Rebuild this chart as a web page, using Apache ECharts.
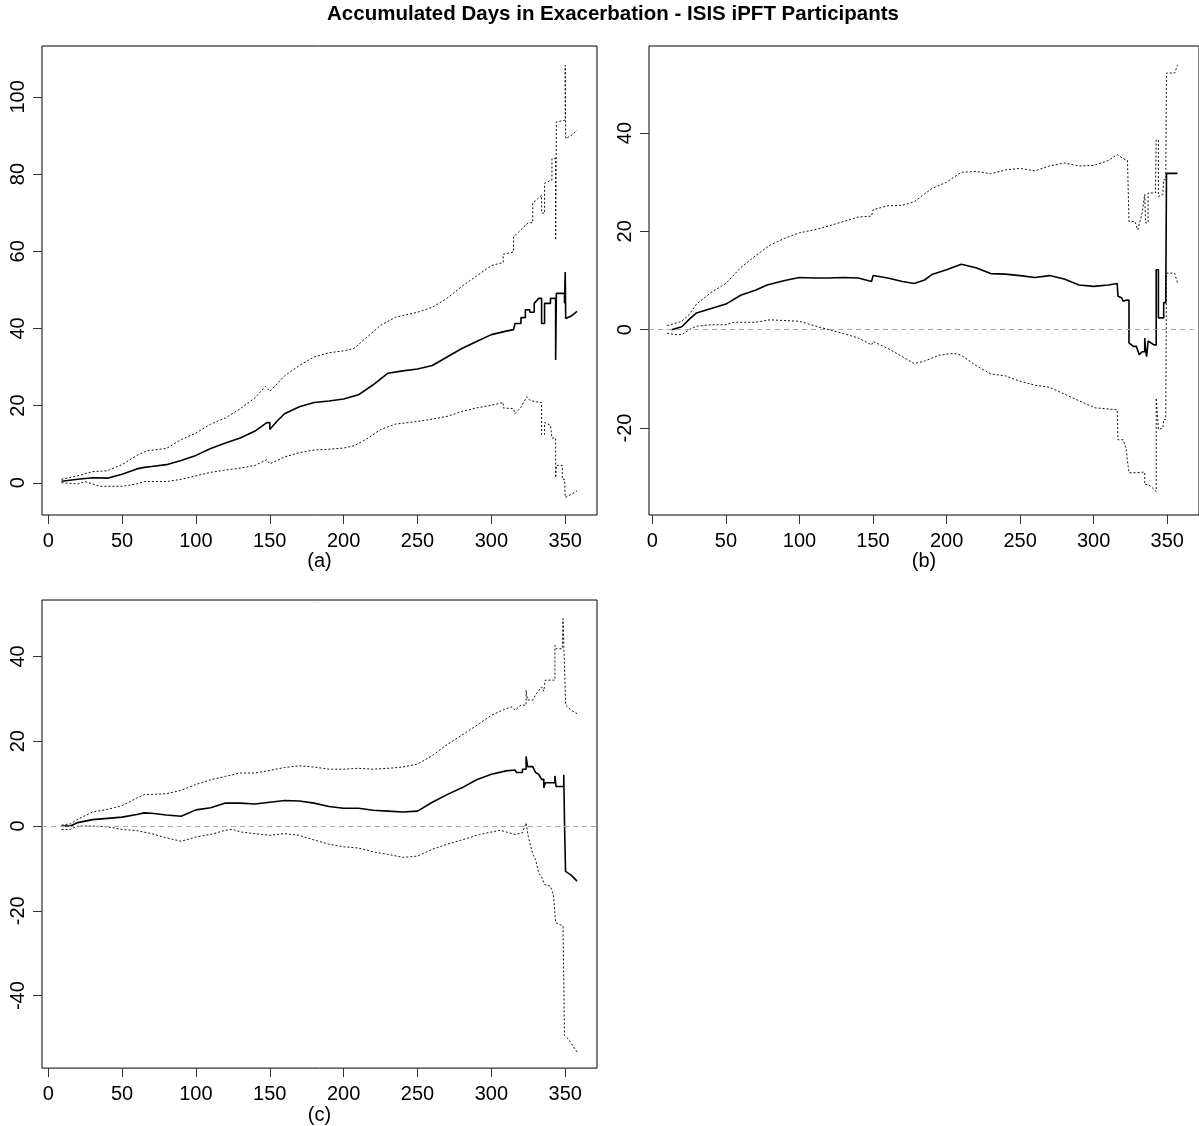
<!DOCTYPE html>
<html>
<head>
<meta charset="utf-8">
<script src="https://cdn.jsdelivr.net/npm/echarts@6/dist/echarts.min.js"></script>
<style>
html,body{margin:0;padding:0;background:#fff;}
#chart{width:1199px;height:1126px;}
</style>
</head>
<body>
<div id="chart"></div>
<script>
// ---- Data (day, accumulated days) ----
const titleText = 'Accumulated Days in Exacerbation - ISIS iPFT Participants';
const panelNames = ['(a)', '(b)', '(c)'];
const xTicks = [0, 50, 100, 150, 200, 250, 300, 350];
const aYTicks = [0, 20, 40, 60, 80, 100];
const bYTicks = [-20, 0, 20, 40];
const cYTicks = [-40, -20, 0, 20, 40];

const aMean = [[9,0.4],[20,0.9],[30,1.3],[40,1.2],[50,2.2],[60,3.6],[65,4.0],[70,4.2],[80,4.7],[90,5.8],[100,7.1],[110,8.9],[120,10.3],[130,11.6],[140,13.4],[148,15.6],[150,15.6],[150,13.8],[155,16],[160,17.9],[170,19.7],[180,20.8],[190,21.2],[200,21.7],[210,22.8],[220,25.4],[230,28.4],[240,29],[250,29.5],[260,30.4],[270,32.6],[280,34.8],[290,36.6],[300,38.4],[310,39.3],[315,39.7],[316,39.7],[316,41.3],[320,41.3],[320,42.8],[323,42.8],[323,44.8],[326,44.8],[326,44.2],[329,44.2],[329,46.5],[332,47.8],[334,47.8],[334,41.3],[336,41.3],[336,46.5],[340,46.5],[340,47.8],[343.5,47.8],[343.5,31.8],[344,31.8],[344,49.1],[349.5,49.1],[349.5,46.5],[350,46.5],[350,54.6],[350.3,54.6],[350.3,42.6],[354,43.2],[358,44.4]];
const aUpper = [[9,0.9],[20,1.8],[30,2.9],[40,3.1],[50,4.7],[60,7.1],[67,8.3],[80,8.9],[90,11.2],[100,12.9],[110,15.2],[120,16.8],[130,19.2],[140,22],[147,25],[150,23.7],[160,27.7],[170,30.4],[180,32.6],[190,33.7],[200,34.2],[207,34.8],[215,37.5],[225,40.8],[235,42.9],[250,44.2],[260,45.5],[270,47.8],[280,50.9],[290,53.6],[300,56.3],[308,57.1],[308,59.2],[315,59.8],[315,63.7],[320,65.6],[325,67.4],[328,67.4],[328,72.5],[334,74.5],[334,69.9],[336,69.9],[336,77.6],[341,78.5],[341,84],[343.5,84],[343.5,62.9],[344,62.9],[344,93.5],[350,94],[350,108.2],[350.3,108.2],[350.3,89.2],[354,90],[358,91.4]];
const aLower = [[9,0],[20,-0.3],[25,0.3],[35,-0.9],[50,-0.9],[60,-0.3],[65,0.3],[80,0.3],[90,0.9],[100,1.8],[110,2.7],[120,3.3],[130,3.8],[140,4.5],[148,6],[150,4.9],[160,6.7],[170,7.8],[180,8.5],[190,8.7],[200,9],[207,9.6],[215,11.2],[225,13.8],[235,15.2],[250,15.9],[260,16.5],[270,17.2],[280,18.5],[290,19.4],[300,20.1],[308,20.8],[308,19.4],[315,19.2],[316,17.9],[320,19.6],[324,22.3],[326,21.4],[330,21],[334,20.8],[334,12.5],[336,12.5],[336,15.6],[340,14.9],[341,14.9],[341,11.6],[343.5,11.6],[343.5,1.3],[344,1.3],[344,4.5],[348,4.5],[348,0.9],[349.5,0.9],[350,-3.8],[354,-3],[358,-2.1]];

const bMean = [[13,0],[20,0.6],[25,2.1],[30,3.4],[40,4.3],[50,5.2],[60,7],[70,8],[78,9.1],[90,10],[100,10.6],[110,10.5],[120,10.5],[130,10.6],[140,10.5],[149,9.8],[150,11],[160,10.5],[170,9.8],[178,9.4],[185,10.1],[190,11.2],[200,12.2],[210,13.3],[220,12.6],[230,11.4],[240,11.3],[250,11],[260,10.6],[270,11],[280,10.3],[290,9.1],[300,8.8],[310,9.1],[316,9.4],[316.5,6.8],[319,6.5],[320,5.8],[322,6],[324,6],[324,-2.7],[327,-3.4],[329,-3.4],[331,-5.1],[333,-4.5],[334.7,-4.5],[334.7,-1.7],[335.3,-1.7],[335.3,-4.2],[336,-4.2],[336,-5.5],[337,-2.3],[341,-3.1],[342.5,-3.1],[342.5,12.2],[344,12.2],[344,2.4],[347.6,2.4],[347.6,5.5],[349,5.5],[349.5,31.8],[357,31.8]];
const bUpper = [[10,0.8],[20,1.7],[25,3.1],[30,5.2],[40,7.6],[50,9.4],[60,12.6],[70,15],[80,17.2],[90,18.6],[100,19.7],[110,20.3],[120,21.1],[130,22],[140,22.9],[149,23.1],[150,24.4],[160,25.2],[170,25.3],[178,26],[185,27.6],[190,28.7],[200,30],[210,32],[220,32.2],[230,31.7],[240,32.5],[250,32.8],[260,32.3],[270,33.3],[280,33.9],[290,33.3],[300,33.4],[310,34.4],[316,35.6],[320,34.8],[323,34.4],[324,34.4],[324,22],[328,22],[330,20.3],[333,23.8],[334.7,27.5],[335.3,21.7],[337,21.7],[337,27.8],[342,27.8],[342.5,27.8],[342.5,38.6],[344,38.6],[344,27.1],[347,27.5],[347.6,30.5],[349,30.5],[349.5,52.2],[355,52.2],[357,53.8]];
const bLower = [[10,-0.7],[15,-1],[20,-1],[25,0],[30,0.7],[40,1],[50,1],[55,1.5],[70,1.5],[80,2],[100,1.7],[110,0.8],[120,0],[130,-0.8],[140,-1.7],[149,-3.1],[150,-2.4],[160,-3.8],[170,-5.5],[178,-6.9],[185,-6.4],[195,-5.2],[205,-4.8],[210,-5.2],[220,-7.3],[230,-9],[240,-9.4],[250,-10.5],[260,-11.3],[270,-11.7],[280,-13.1],[288,-14.2],[301,-15.9],[316,-16.3],[316.5,-22.4],[320,-22.4],[322,-24.1],[323,-26.8],[324,-26.8],[324,-29.1],[329,-29.1],[333,-29],[334.7,-29],[334.7,-31.5],[337,-31.5],[340,-32.2],[342.5,-32.9],[342.5,-13.9],[343,-13.9],[344,-20.3],[347,-20],[347.6,-18.3],[349,-18.3],[349.5,11.5],[355,11.5],[357,9.5]];

const cMean = [[9,0],[15,0],[20,0.8],[30,1.5],[40,1.8],[50,2.1],[60,2.7],[65,3.1],[70,3],[80,2.6],[90,2.3],[100,3.8],[110,4.3],[120,5.4],[130,5.4],[140,5.2],[150,5.6],[160,6],[170,5.9],[180,5.4],[190,4.6],[200,4.2],[210,4.2],[220,3.7],[230,3.5],[240,3.3],[250,3.5],[260,5.6],[270,7.4],[280,9],[290,10.9],[300,12.2],[310,13],[316,13.2],[317,12.6],[321,12.6],[321,13.4],[323.5,13.4],[323.5,16.4],[324.5,16.4],[324.5,14],[328,14],[330,12.6],[332,12.2],[334,11],[335.5,11],[335.5,9],[336.5,9],[336.5,10.2],[343,10.2],[343,11.8],[343.8,11.8],[343.8,9.3],[349,9.3],[349,12.1],[349.6,12.1],[349.6,-1],[350.2,-10.7],[354,-11.6],[358,-13]];
const cUpper = [[9,0.2],[15,0.5],[20,1.6],[30,3.3],[40,3.9],[50,4.8],[60,6.6],[65,7.4],[80,7.6],[90,8.4],[100,9.8],[110,10.9],[120,11.7],[130,12.5],[140,12.5],[150,13.1],[160,13.8],[170,14.2],[180,13.9],[190,13.4],[200,13.4],[210,13.6],[220,13.4],[230,13.6],[240,13.9],[250,14.6],[260,16.6],[270,19.2],[280,21.4],[292,24.2],[300,26.1],[310,27.7],[314,28.1],[316,27.3],[320,28.5],[323.5,28.5],[323.5,32],[324.5,32],[324.5,29.7],[328,29.7],[330,31],[334,32.8],[335.5,31.8],[336.5,34.4],[343,34.4],[343,42.6],[344,42.6],[344,41.8],[348,41.8],[348.5,48.9],[349.5,48.9],[350.3,28.5],[354,27.3],[358,26.5]];
const cLower = [[9,-0.8],[15,-0.8],[20,0],[30,0],[40,-0.2],[50,-0.8],[60,-1.1],[70,-1.8],[80,-2.8],[90,-3.6],[100,-2.6],[110,-2],[120,-1],[125,-0.8],[130,-1.4],[140,-1.8],[150,-2.2],[160,-1.8],[170,-2.2],[180,-3.3],[190,-4.3],[200,-4.9],[210,-5.2],[220,-6.1],[230,-6.7],[240,-7.4],[250,-7.1],[260,-5.5],[270,-4.3],[280,-3.3],[292,-2],[306,-1],[316,-2],[321,-1.6],[323.5,0.7],[324.5,0.7],[325,-2.5],[328,-6.7],[330,-8],[332,-11],[334,-12],[336,-13.8],[340,-14.2],[342,-16.2],[343.5,-22.8],[348.5,-23.6],[349.5,-49.4],[352,-50.2],[358,-53.3]];

// ---- Chart ----
const FONT = '"Liberation Sans", Arial, sans-serif';
const grids = [
  {left: 42, top: 46, width: 555, height: 469},
  {left: 649, top: 46, width: 556, height: 469},
  {left: 42, top: 600, width: 555, height: 469}
];
const xRanges = [[-4.2, 371.5], [-2.3, 371.6], [-4.2, 371.5]];
const yRanges = [[-8.35, 113.2], [-37.7, 57.7], [-57.1, 53.3]];
const yTickSets = [aYTicks, bYTicks, cYTicks];
const seriesSets = [[aMean, aUpper, aLower], [bMean, bUpper, bLower], [cMean, cUpper, cLower]];
const zeroLine = [false, true, true];

const option = {
  backgroundColor: '#fff',
  animation: false,
  textStyle: {fontFamily: FONT},
  graphic: [{
    type: 'text', x: 613, y: 14,
    style: {text: titleText, font: 'bold 20.5px ' + FONT, fill: '#000', textAlign: 'center', textVerticalAlign: 'middle'}
  }],
  grid: grids.map(g => Object.assign({show: true, borderColor: '#000', borderWidth: 1, backgroundColor: 'transparent'}, g)),
  xAxis: grids.map((g, i) => ({
    type: 'value', gridIndex: i, min: xRanges[i][0], max: xRanges[i][1],
    name: panelNames[i], nameLocation: 'middle', nameGap: 36,
    nameTextStyle: {fontSize: 20, color: '#000', fontFamily: FONT},
    axisLine: {show: false, onZero: false},
    axisTick: {show: true, length: 9, customValues: xTicks, lineStyle: {color: '#333'}},
    axisLabel: {customValues: xTicks, fontSize: 20, color: '#000', margin: 16, fontFamily: FONT},
    splitLine: {show: false}
  })),
  yAxis: grids.map((g, i) => ({
    type: 'value', gridIndex: i, min: yRanges[i][0], max: yRanges[i][1],
    axisLine: {show: false, onZero: false},
    axisTick: {show: true, length: 9, customValues: yTickSets[i], lineStyle: {color: '#333'}},
    axisLabel: {customValues: yTickSets[i], fontSize: 20, color: '#000', rotate: 90, margin: 14,
      align: 'center', verticalAlign: 'bottom', fontFamily: FONT},
    splitLine: {show: false}
  })),
  series: []
};

seriesSets.forEach((set, i) => {
  set.forEach((data, k) => {
    const s = {
      type: 'line', xAxisIndex: i, yAxisIndex: i, data: data,
      showSymbol: false, symbol: 'none', silent: true, clip: true,
      lineStyle: k === 0 ? {color: '#000', width: 1.6} : {color: '#111', width: 1, type: [2, 2]},
      z: k === 0 ? 3 : 2
    };
    if (k === 0 && zeroLine[i]) {
      s.markLine = {
        silent: true, symbol: 'none', label: {show: false},
        lineStyle: {color: '#aaa', type: [5, 4], width: 1.2},
        data: [{yAxis: 0}]
      };
    }
    option.series.push(s);
  });
});

const chart = echarts.init(document.getElementById('chart'));
chart.setOption(option);
</script>
</body>
</html>
